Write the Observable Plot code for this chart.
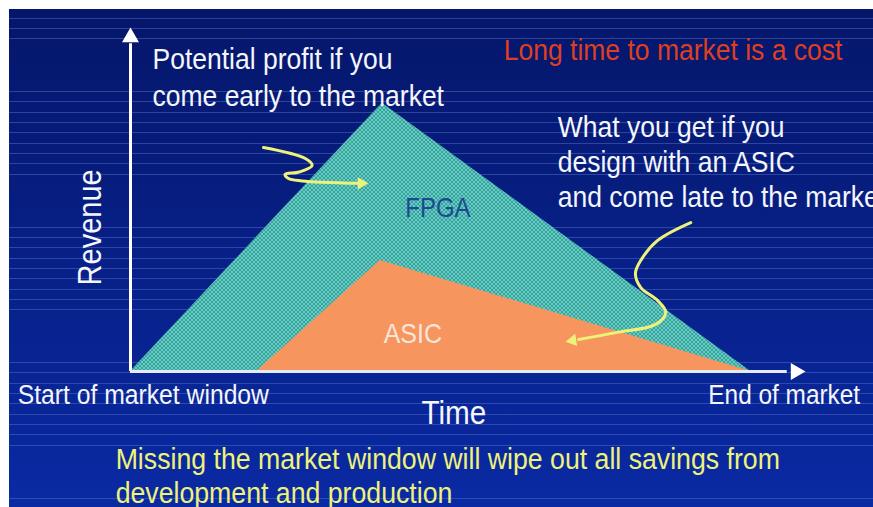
<!DOCTYPE html>
<html><head><meta charset="utf-8">
<script src="https://cdn.jsdelivr.net/npm/d3@7"></script>
<script src="https://cdn.jsdelivr.net/npm/@observablehq/plot@0.6"></script>
<style>
html,body{margin:0;padding:0;background:#fff;overflow:hidden;}
#chart{position:absolute;left:9px;top:9px;width:864px;height:498px;overflow:hidden;
  background:linear-gradient(to bottom,#05166a 0%,#071f84 45%,#0a2aa4 100%);}
</style></head><body><div id="chart"></div>
<script>
// ---- data (time on x, revenue on y; both 0..100) ----
const fpgaTime = [0, 37.3, 91.9];
const fpgaRevenue = [0, 78, 0];
const asicTime = [18.7, 37.0, 91.9];
const asicRevenue = [0, 32.3, 0];

// annotation curves (yellow arrows)
const arrow1X = [19.7, 25.9, 26.9, 25.0, 22.9, 23.4, 25.4, 33.8];
const arrow1Y = [65.1, 61.9, 59.9, 58.0, 57.3, 56.1, 55.4, 54.7];
const arrow2X = [83.0, 78.1, 75.6, 74.8, 75.6, 78.1, 79.3, 77.8, 71.9, 66.4];
const arrow2Y = [43.3, 38.1, 32.3, 28.5, 24.4, 20.6, 17.2, 13.7, 11.3, 9.3];
const headX = [34.2, 65.5];
const headY = [54.7, 9.0];
const headAngle = [90, 261];

// texts
const whiteNotes = ["Potential profit if you", "come early to the market", "What you get if you", "design with an ASIC", "and come late to the market"];
const whiteNoteX = [3.26, 3.26, 63.3, 63.3, 63.3];
const whiteNoteY = [90.7, 79.9, 70.9, 60.8, 50.6];
const costNote = "Long time to market is a cost";
const axisStart = "Start of market window";
const axisEnd = "End of market";
const xTitle = "Time";
const yTitle = "Revenue";
const caption = ["Missing the market window will wipe out all savings from", "development and production"];

const fpga = fpgaTime.map((t, i) => ({t, r: fpgaRevenue[i]}));
const asic = asicTime.map((t, i) => ({t, r: asicRevenue[i]}));
const a1 = arrow1X.map((x, i) => ({x, y: arrow1Y[i]}));
const a2 = arrow2X.map((x, i) => ({x, y: arrow2Y[i]}));
const heads = headX.map((x, i) => ({x, y: headY[i], a: headAngle[i]}));
const notes = whiteNotes.map((text, i) => ({text, x: whiteNoteX[i], y: whiteNoteY[i]}));
const capRows = caption.map((text, i) => ({text, x: -2.2, y: [-25.6, -35.5][i]}));

const FONT = "'Liberation Sans', Arial, Helvetica, sans-serif";
const YEL = "#eef27a";
const SX = 0.89; // slide font is a little narrower than Arial
const fs = s => s / SX;

const plot = Plot.plot({
  width: 864, height: 498,
  marginLeft: 121, marginRight: 68, marginTop: 18, marginBottom: 136,
  x: {domain: [0, 100], axis: null},
  y: {domain: [0, 100], axis: null},
  style: {background: "none", fontFamily: FONT, overflow: "visible"},
  marks: [
    Plot.areaY(fpga, {x: "t", y: "r", fill: "url(#fpgaTex)"}),
    Plot.areaY(asic, {x: "t", y: "r", fill: "#f7955f"}),
    Plot.ruleX([0], {y1: 0, y2: 95.3, stroke: "white", strokeWidth: 3}),
    Plot.ruleY([0], {x1: 0, x2: 97.3, stroke: "#e6eaf4", strokeWidth: 3}),
    Plot.dot([{x: 0, y: 100}], {x: "x", y: "y", symbol: "triangle", r: 6.3, fill: "white", stroke: "none", dy: 9.8}),
    Plot.dot([{x: 100, y: 0}], {x: "x", y: "y", symbol: "triangle", r: 6.3, fill: "white", stroke: "none", rotate: 90, dx: -9.8}),
    Plot.line(a1, {x: "x", y: "y", curve: "catmull-rom", stroke: YEL, strokeWidth: 3}),
    Plot.line(a2, {x: "x", y: "y", curve: "catmull-rom", stroke: YEL, strokeWidth: 3}),
    Plot.dot(heads, {x: "x", y: "y", rotate: "a", symbol: "triangle", r: 4.6, fill: YEL, stroke: "none"}),
    Plot.text(notes, {x: "x", y: "y", text: "text", fill: "#f4f6fb", fontSize: fs(26.5), textAnchor: "start", lineAnchor: "middle"}),
    Plot.text([costNote], {x: 55.3, y: 93.3, text: d => d, fill: "#de3f20", fontSize: fs(26.5), textAnchor: "start", lineAnchor: "middle"}),
    Plot.text(["FPGA"], {x: 40.7, y: 47.4, text: d => d, fill: "#1e4892", fontSize: fs(24), textAnchor: "start", lineAnchor: "middle"}),
    Plot.text(["ASIC"], {x: 37.5, y: 11.0, text: d => d, fill: "#f6e6da", fontSize: fs(25), textAnchor: "start", lineAnchor: "middle"}),
    Plot.text([yTitle], {x: -5.9, y: 41.9, text: d => d, fill: "#f4f6fb", fontSize: fs(29), rotate: -90, textAnchor: "middle", lineAnchor: "middle"}),
    Plot.text([axisStart], {x: -16.7, y: -7.0, text: d => d, fill: "#f4f6fb", fontSize: fs(24.7), textAnchor: "start", lineAnchor: "middle"}),
    Plot.text([axisEnd], {x: 85.6, y: -7.0, text: d => d, fill: "#f4f6fb", fontSize: fs(24.4), textAnchor: "start", lineAnchor: "middle"}),
    Plot.text([xTitle], {x: 47.9, y: -12.2, text: d => d, fill: "#f4f6fb", fontSize: fs(29.7), textAnchor: "middle", lineAnchor: "middle"}),
    Plot.text(capRows, {x: "x", y: "y", text: "text", fill: YEL, fontSize: fs(26.7), textAnchor: "start", lineAnchor: "middle"})
  ]
});

// narrow the slide's text horizontally (keeps anchor points)
d3.select(plot).selectAll("g[aria-label=text] text").each(function () {
  const t = this.getAttribute("transform");
  if (t) {
    this.setAttribute("transform", t + ` scale(${SX},1)`);
  } else {
    const x = +this.getAttribute("x") || 0, y = +this.getAttribute("y") || 0;
    this.removeAttribute("x"); this.removeAttribute("y");
    this.setAttribute("transform", `translate(${x},${y}) scale(${SX},1)`);
  }
});

// texture for the FPGA area and slide background stripes
const svg = d3.select(plot);
const defs = svg.insert("defs", ":first-child");
const pat = defs.append("pattern").attr("id", "fpgaTex").attr("patternUnits", "userSpaceOnUse").attr("width", 4).attr("height", 4);
pat.append("rect").attr("width", 4).attr("height", 4).attr("fill", "#30a69f");
pat.append("rect").attr("width", 2).attr("height", 2).attr("fill", "#6fc9c1");
pat.append("rect").attr("x", 2).attr("y", 2).attr("width", 2).attr("height", 2).attr("fill", "#6fc9c1");
const stripes = svg.insert("g", "defs + *").attr("class", "stripes");
for (let k = -1; k < 4; k++) {
  for (let j = 0; j < 9; j++) {
    const y = 82 + 135.5 * k + 10.35 * j;
    if (y < 0 || y > 498) continue;
    stripes.append("rect").attr("x", 0).attr("y", Math.round(y)).attr("width", 864).attr("height", 1)
      .attr("fill", "#4a68c0").attr("opacity", 0.55);
  }
}
document.getElementById("chart").appendChild(plot);
</script>
</body></html>
